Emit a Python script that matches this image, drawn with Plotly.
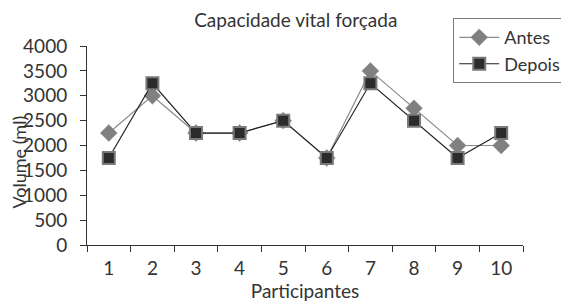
import plotly.graph_objects as go

participantes = ["1", "2", "3", "4", "5", "6", "7", "8", "9", "10"]
antes = [2250, 3000, 2250, 2250, 2500, 1750, 3500, 2750, 2000, 2000]
depois = [1750, 3250, 2250, 2250, 2500, 1750, 3250, 2500, 1750, 2250]
y_ticks = [0, 500, 1000, 1500, 2000, 2500, 3000, 3500, 4000]

FONT = "Lato"
TXT = "#333333"

fig = go.Figure()
fig.add_trace(go.Scatter(
    x=participantes, y=antes, name="Antes", mode="lines+markers",
    line=dict(color="#8c8c8c", width=1.2),
    marker=dict(symbol="diamond", size=13, color="#808080",
                line=dict(color="#8c8c8c", width=0.5)),
))
fig.add_trace(go.Scatter(
    x=participantes, y=depois, name="Depois", mode="lines+markers",
    line=dict(color="#222222", width=1.2),
    marker=dict(symbol="square", size=12, color="#2b2b2b",
                line=dict(color="#7a7a7a", width=2)),
))

fig.update_layout(
    width=561, height=294,
    margin=dict(l=79, r=46, t=38, b=57, autoexpand=False),
    paper_bgcolor="white", plot_bgcolor="white",
    font=dict(family=FONT, size=19, color=TXT),
    title=dict(text="Capacidade vital forçada", x=0.513, xanchor="center",
               y=0.959, yref="container", yanchor="middle",
               font=dict(size=19, color=TXT)),
    showlegend=True,
    legend=dict(x=0.84, y=1.14, xref="paper", yref="paper",
                xanchor="left", yanchor="top",
                bordercolor="#7a7a7a", borderwidth=1, bgcolor="white",
                font=dict(size=18, color=TXT), itemwidth=40,
                tracegroupgap=0),
    xaxis=dict(
        type="category", tickson="boundaries", range=[-0.5, 9.5],
        showline=True, linecolor="#333333", linewidth=1,
        ticks="outside", ticklen=6, tickcolor="#333333",
        showgrid=False, zeroline=False,
        ticklabelstandoff=6,
        title=dict(text="Participantes", standoff=2, font=dict(size=19)),
    ),
    yaxis=dict(
        range=[0, 4000], tickvals=y_ticks,
        showline=True, linecolor="#333333", linewidth=1,
        ticks="outside", ticklen=6, tickcolor="#333333",
        showgrid=False, zeroline=False,
        ticklabelstandoff=9,
    ),
    annotations=[dict(
        text="Volume (ml)", textangle=-90, showarrow=False,
        xref="paper", yref="paper", x=-0.157, y=0.417,
        xanchor="center", yanchor="middle",
        font=dict(size=18, color=TXT),
    )],
)

fig.write_html("out.html")
